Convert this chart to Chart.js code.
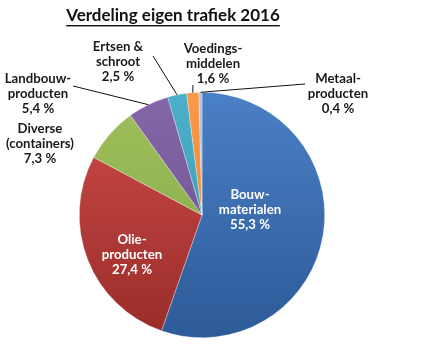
<!DOCTYPE html>
<html>
<head>
<meta charset="utf-8">
<script src="https://cdn.jsdelivr.net/npm/chart.js@4/dist/chart.umd.min.js"></script>
<style>
  html, body { margin: 0; padding: 0; background: #fff; }
  canvas { display: block; }
</style>
</head>
<body>
<canvas id="myChart" width="425" height="348"></canvas>
<script>
// data
const categories = ['Bouwmaterialen', 'Olieproducten', 'Diverse (containers)', 'Landbouwproducten', 'Ertsen & schroot', 'Voedingsmiddelen', 'Metaalproducten'];
const labelLines = [
  ['Bouw-', 'materialen'],
  ['Olie-', 'producten'],
  ['Diverse', '(containers)'],
  ['Landbouw-', 'producten'],
  ['Ertsen &', 'schroot'],
  ['Voedings-', 'middelen'],
  ['Metaal-', 'producten']
];
const shares = [55.3, 27.4, 7.3, 5.4, 2.5, 1.6, 0.4];

// look
const topColors = ['#4a80c6', '#cf4c48', '#9fc05c', '#8567a8', '#4db0ca', '#f99a4a', '#b2c2e0'];
const bottomColors = ['#2d5a98', '#982c2a', '#83a546', '#684d88', '#3794ad', '#e27c2a', '#98aacb'];
const textColors = ['#ffffff', '#ffffff', '#1a1a1a', '#1a1a1a', '#1a1a1a', '#1a1a1a', '#1a1a1a'];
// label centre (x, first line y) and leader line start, null = no line
const labelPos = [[250, 195], [132, 240], [40, 129], [38, 79], [118, 47], [213, 49], [338, 79]];
const leaderStart = [null, null, null, [73, 86], [153, 56], [193, 85], [305, 84]];
const FONT = 'Lato, "Open Sans", sans-serif';

function fill(ctx) {
  const chart = ctx.chart;
  const a = chart.chartArea;
  const i = ctx.dataIndex;
  if (!a) return topColors[i];
  const g = chart.ctx.createLinearGradient(0, a.top, 0, a.bottom);
  g.addColorStop(0, topColors[i]);
  g.addColorStop(1, bottomColors[i]);
  return g;
}

const labelPlugin = {
  id: 'labels',
  afterDraw(chart) {
    const c = chart.ctx;
    c.save();
    // title
    c.font = 'bold 17px ' + FONT;
    c.fillStyle = '#111';
    c.textAlign = 'center';
    c.textBaseline = 'middle';
    const title = 'Verdeling eigen trafiek 2016';
    c.fillText(title, 173, 16);
    const w = c.measureText(title).width;
    c.fillRect(173 - w / 2, 25, w, 1.4);

    const arcs = chart.getDatasetMeta(0).data;
    arcs.forEach((arc, i) => {
      const s = leaderStart[i];
      if (s) {
        const mid = (arc.startAngle + arc.endAngle) / 2;
        const ex = arc.x + Math.cos(mid) * arc.outerRadius;
        const ey = arc.y + Math.sin(mid) * arc.outerRadius;
        c.strokeStyle = '#111';
        c.lineWidth = 1;
        c.beginPath();
        c.moveTo(s[0], s[1]);
        c.lineTo(ex, ey);
        c.stroke();
      }
      const lines = labelLines[i].concat([shares[i].toFixed(1).replace('.', ',') + ' %']);
      c.font = 'bold 13.2px ' + FONT;
      c.fillStyle = textColors[i];
      lines.forEach((t, k) => c.fillText(t, labelPos[i][0], labelPos[i][1] + k * 14.8));
    });
    c.restore();
  }
};

new Chart(document.getElementById('myChart'), {
  type: 'pie',
  data: {
    labels: categories,
    datasets: [{
      data: shares,
      backgroundColor: fill,
      borderColor: 'rgba(255,255,255,0.5)',
      borderWidth: 0.6
    }]
  },
  options: {
    responsive: false,
    animation: false,
    layout: { padding: { top: 92, bottom: 10, left: 79, right: 100 } },
    plugins: {
      legend: { display: false },
      tooltip: { enabled: false },
      title: { display: false }
    }
  },
  plugins: [labelPlugin]
});
</script>
</body>
</html>
